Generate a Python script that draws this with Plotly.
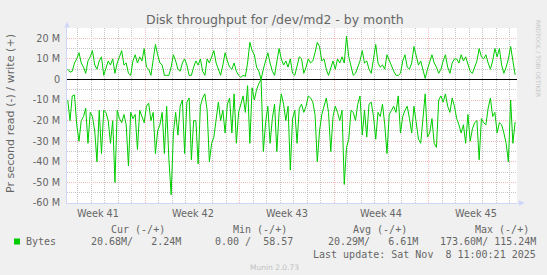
import plotly.graph_objects as go
import pandas as pd

# ---------------- data (MB/s, 4-hour averages) ----------------
start_time = "2025-10-06 06:00"
step = "4h"

write_mb = [5, 3.5, 4, 8, 10, 13, 8, 6, 3, 9,
            11, 14, 7, 5, 9, 11, 2, 6, 9, 7,
            10, 3, 8, 11, 14, 7, 8, 3, 2, 9,
            12, 8, 11, 9, 15, 6, 5, 2, 9, 17,
            12, 8, 7, 2, 2, 2, 6, 12, 9, 5,
            4, 8, 10, 7, 2, 2, 6, 9, 7, 10,
            4, 2, 10, 8, 11, 14, 8, 5, 2, 7,
            13, 9, 6, 5, 8, 4, 2, 1, 2, 1.5,
            8, 18, 14, 12, 6, 4, 0, 5, 9, 13,
            8, 4, 2, 8, 15, 10, 7, 9, 6, 10,
            3, 2, 7, 11, 10, 3, 6, 10, 8, 9,
            13, 18, 16, 9, 10, 5, 2, 6, 9, 5,
            10, 8, 11, 8, 21, 11, 6, 2, 3, 6,
            9, 14, 8, 9, 5, 3, 10, 17, 8, 6,
            7, 5, 12, 9, 6, 4, 2, 2, 3, 9,
            12, 6, 5, 8, 16, 11, 7, 9, 4, 0.5,
            5, 9, 12, 8, 6, 3, 5, 9, 12, 6,
            3, 8, 10, 10, 8, 12, 9, 11, 7, 4,
            3, 6, 9, 15, 11, 10, 12, 8, 5, 9,
            15, 11, 15, 7, 3, 6, 10, 16, 8, 2.24]

read_mb = [10, 20, 8, 7.5, 22, 30, 20, 18, 14, 31,
           16, 18, 25, 40, 15, 36, 15, 16, 20, 31,
           20, 50, 15, 19, 21, 17, 22, 42, 16, 19,
           17, 34, 15, 18, 21, 13, 11.5, 20, 16, 36,
           25, 22, 16, 36, 13, 39, 56, 26, 16, 27,
           13, 10, 36, 11, 9, 39, 20, 20, 41, 13,
           9, 7, 15, 40, 31, 28, 18, 11, 20, 15,
           26, 12, 9, 26, 7, 31, 16, 12, 8, 16,
           3, 31, 4, 10, 5, 2, 0, 35, 21, 13,
           31, 19, 12, 35, 16, 7, 12, 20, 13, 44,
           19, 15, 31, 14, 12, 16, 13, 8, 9, 11,
           17, 40, 25, 17, 13, 9, 16, 35, 18, 13,
           16, 20, 15, 51, 33, 29, 15, 16, 20, 12,
           8, 27, 15, 28, 12, 11, 18, 29, 16, 18,
           12, 22, 36, 17, 15, 13, 16, 8, 26, 18,
           15, 13, 19, 26, 13, 21, 29, 31, 18, 7,
           28, 26, 19, 31, 33, 10, 8, 11, 7, 13,
           16, 9, 13, 19, 22, 26, 22, 31, 17, 30,
           24, 21, 20, 39, 19, 21, 22, 14, 9, 18,
           16, 26, 21, 22, 26, 31, 40, 10, 31, 20.68]

x_range = ["2025-10-06 04:40", "2025-11-08 13:20"]
week_boundaries = ["2025-10-12", "2025-10-19", "2025-10-26", "2025-11-02"]
week_label_dates = ["2025-10-08 12:00", "2025-10-15 12:00", "2025-10-22 12:00",
                    "2025-10-29 12:00", "2025-11-05 12:00"]
week_labels = ["Week 41", "Week 42", "Week 43", "Week 44", "Week 45"]

y_tickvals = [20, 10, 0, -10, -20, -30, -40, -50, -60]
y_ticktext = ["20 M", "10 M", "0", "-10 M", "-20 M", "-30 M", "-40 M", "-50 M", "-60 M"]

legend_headers = ["Cur (-/+)", "Min (-/+)", "Avg (-/+)", "Max (-/+)"]
legend_values = ["20.68M/   2.24M", "0.00 /  58.57", "20.29M/   6.61M", "173.60M/ 115.24M"]
last_update = "Last update: Sat Nov  8 11:00:21 2025"

# ---------------- figure ----------------
W, H = 547, 275
ML, MR, MT, MB = 67, 30, 28, 72
PW, PH = W - ML - MR, H - MT - MB


def xp(px):
    return (px - ML) / PW


def yp(py):
    return (H - MB - py) / PH


def nb(s):
    return s.replace(" ", "\u00a0")


t = pd.date_range(start_time, periods=len(write_mb), freq=step)
green = "#00CC00"
fig = go.Figure()
fig.add_trace(go.Scatter(x=t, y=write_mb, mode="lines",
                         line=dict(color=green, width=1), hoverinfo="skip", showlegend=False))
fig.add_trace(go.Scatter(x=t, y=[-v for v in read_mb], mode="lines",
                         line=dict(color=green, width=1), hoverinfo="skip", showlegend=False))

FONT = "DejaVu Sans"
MONO = "DejaVu Sans Mono"
TXT = "#666666"
GRID = "#C4C4C4"
MGRID = "#F6B8B8"
AXIS = "#CFD6F8"

fig.update_layout(
    width=W, height=H,
    margin=dict(l=ML, r=MR, t=MT, b=MB, pad=0),
    paper_bgcolor="#F0F0F0", plot_bgcolor="#FFFFFF",
    showlegend=False,
    xaxis=dict(type="date", range=x_range, tickvals=week_boundaries,
               showticklabels=False, ticks="",
               showgrid=True, gridcolor=MGRID, griddash="1px,1px", gridwidth=1,
               minor=dict(dtick=86400000, tick0="2025-10-12", showgrid=True,
                          gridcolor=GRID, griddash="1px,1px", gridwidth=1),
               showline=True, linecolor=AXIS, linewidth=1, zeroline=False),
    yaxis=dict(range=[-60, 25], tickvals=y_tickvals, ticktext=y_ticktext,
               ticks="", ticklabelstandoff=4,
               tickfont=dict(family=FONT, size=9.7, color=TXT),
               showgrid=True, gridcolor=MGRID, griddash="1px,1px", gridwidth=1,
               minor=dict(dtick=5, tick0=0, showgrid=True, gridcolor=GRID,
                          griddash="1px,1px", gridwidth=1),
               zeroline=True, zerolinecolor="#000000", zerolinewidth=1,
               showline=True, linecolor=AXIS, linewidth=1),
)

shapes = []
# axis arrows
shapes.append(dict(type="path", xref="paper", yref="paper",
                   path=f"M {xp(64.3)} {yp(27.5)} L {xp(69.7)} {yp(27.5)} L {xp(67)} {yp(21.5)} Z",
                   fillcolor=AXIS, line=dict(width=0)))
shapes.append(dict(type="line", xref="paper", yref="paper", x0=xp(517), x1=xp(519.5),
                   y0=yp(203), y1=yp(203), line=dict(color=AXIS, width=1)))
shapes.append(dict(type="path", xref="paper", yref="paper",
                   path=f"M {xp(519)} {yp(200.3)} L {xp(519)} {yp(205.7)} L {xp(525)} {yp(203)} Z",
                   fillcolor=AXIS, line=dict(width=0)))
# legend swatch
shapes.append(dict(type="rect", xref="paper", yref="paper",
                   x0=xp(14), x1=xp(20), y0=yp(238.5), y1=yp(244.5),
                   fillcolor=green, line=dict(width=0)))
fig.update_layout(shapes=shapes)

ann = []


def text(s, x, y, size, family=FONT, color=TXT, xanchor="center", xref="paper", angle=0):
    ann.append(dict(text=nb(s), x=x, y=y, xref=xref, yref="paper", showarrow=False,
                    xanchor=xanchor, yanchor="middle", textangle=angle,
                    borderpad=0, borderwidth=0,
                    font=dict(family=family, size=size, color=color)))


text("Disk throughput for /dev/md2 - by month", xp(275), yp(19.5), 12.5)
ann.append(dict(text="Pr second read (-) / write (+)", x=xp(10), y=yp(114), xref="paper",
                yref="paper", showarrow=False, textangle=-90, xanchor="center",
                yanchor="middle", borderpad=0, borderwidth=0,
                font=dict(family=FONT, size=11.1, color=TXT)))
for d, lab in zip(week_label_dates, week_labels):
    text(lab, d, yp(213), 9.7, xref="x")

header_right = [165, 287, 407, 529]
value_right = [181, 293, 417.5, 536]
for h, xr in zip(legend_headers, header_right):
    text(h, xp(xr), yp(229.4), 10, family=MONO, xanchor="right")
text("Bytes", xp(26), yp(241.7), 10, family=MONO, xanchor="left")
for v, xr in zip(legend_values, value_right):
    text(v, xp(xr), yp(241.7), 10, family=MONO, xanchor="right")
text(last_update, xp(536), yp(254.6), 10, family=MONO, xanchor="right")
text("Munin 2.0.73", xp(274), yp(267.6), 7.5, color="#C0C0C0")
ann.append(dict(text=nb("RRDTOOL / TOBI OETIKER"), x=xp(538), y=yp(58), xref="paper",
                yref="paper", showarrow=False, textangle=90, xanchor="center",
                yanchor="middle", borderpad=0, borderwidth=0,
                font=dict(family=FONT, size=6, color="#C8C8C8")))
fig.update_layout(annotations=ann)

fig.write_html("out.html")
